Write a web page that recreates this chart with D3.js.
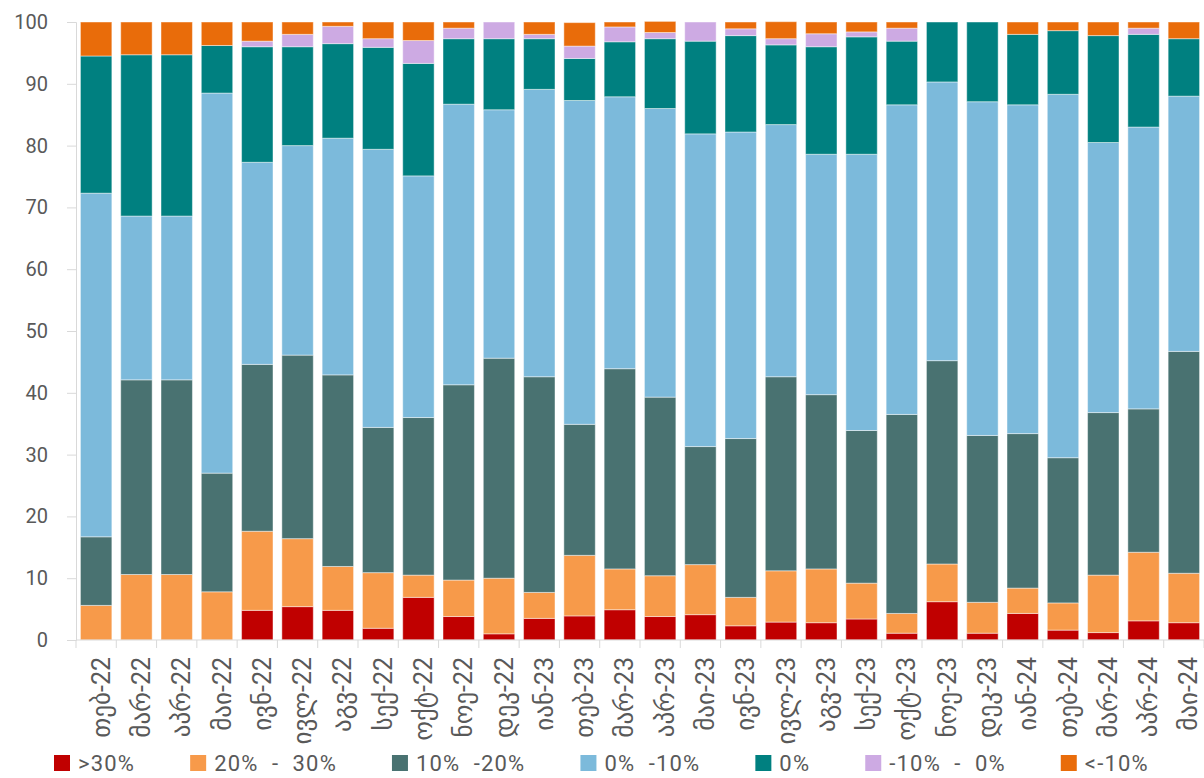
<!DOCTYPE html>
<html>
<head>
<meta charset="utf-8">
<script src="https://cdn.jsdelivr.net/npm/d3@7"></script>
<style>
    body { margin: 0; background: #fff; }
    text { font-family: Roboto, 'DejaVu Sans', sans-serif; fill: #595959; }
</style>
</head>
<body>
<div id="wrapper"></div>
<script>
// months (Georgian abbreviations)
const months = ['თებ-22', 'მარ-22', 'აპრ-22', 'მაი-22', 'ივნ-22', 'ივლ-22', 'აგვ-22', 'სექ-22', 'ოქტ-22', 'ნოე-22', 'დეკ-22',
    'იან-23', 'თებ-23', 'მარ-23', 'აპრ-23', 'მაი-23', 'ივნ-23', 'ივლ-23', 'აგვ-23', 'სექ-23', 'ოქტ-23', 'ნოე-23', 'დეკ-23',
    'იან-24', 'თებ-24', 'მარ-24', 'აპრ-24', 'მაი-24'];

const seriesNames = ['>30%', '20%  -  30%', '10%  -20%', '0%  -10%', '0%', '-10%  -  0%', '<-10%'];

// shares (%) per month, bottom to top
const over30 = [0, 0, 0, 0, 4.8, 5.4, 4.8, 1.9, 6.9, 3.8, 1.0, 3.5, 3.9, 4.9, 3.8, 4.1, 2.3, 2.9, 2.8, 3.4, 1.1, 6.2, 1.1, 4.3, 1.6, 1.2, 3.1, 2.8];
const from20to30 = [5.6, 10.6, 10.6, 7.8, 12.8, 11.0, 7.1, 9.0, 3.6, 5.9, 9.0, 4.2, 9.8, 6.6, 6.6, 8.1, 4.6, 8.3, 8.7, 5.8, 3.2, 6.1, 5.0, 4.1, 4.4, 9.3, 11.1, 8.0];
const from10to20 = [11.1, 31.5, 31.5, 19.2, 27.0, 29.7, 31.0, 23.5, 25.5, 31.6, 35.6, 34.9, 21.2, 32.4, 28.9, 19.1, 25.7, 31.4, 28.2, 24.7, 32.2, 32.9, 27.0, 25.0, 23.5, 26.3, 23.2, 35.9];
const from0to10 = [55.6, 26.5, 26.5, 61.5, 32.7, 33.9, 38.3, 45.0, 39.1, 45.4, 40.2, 46.5, 52.4, 44.0, 46.7, 50.6, 49.6, 40.8, 38.9, 44.7, 50.1, 45.1, 54.0, 53.2, 58.8, 43.7, 45.6, 41.3];
const zero = [22.2, 26.1, 26.1, 7.7, 18.7, 16.0, 15.3, 16.5, 18.2, 10.6, 11.5, 8.2, 6.8, 8.9, 11.3, 15.0, 15.6, 12.9, 17.4, 19.0, 10.3, 9.7, 12.9, 11.4, 10.3, 17.3, 15.0, 9.3];
const minus10to0 = [0, 0, 0, 0, 0.9, 2.0, 2.8, 1.4, 3.7, 1.7, 2.7, 0.7, 2.0, 2.4, 1.0, 3.1, 1.1, 1.0, 2.1, 0.8, 2.1, 0, 0, 0, 0, 0, 1.0, 0];
const belowMinus10 = [5.5, 5.3, 5.3, 3.8, 3.1, 2.0, 0.7, 2.7, 3.0, 1.0, 0, 2.0, 3.8, 0.8, 1.8, 0, 1.1, 2.75, 1.9, 1.6, 1.0, 0, 0, 2.0, 1.4, 2.2, 1.0, 2.7];

const yTicks = [0, 10, 20, 30, 40, 50, 60, 70, 80, 90, 100];

const colors = ['#C00000', '#F79A4A', '#497271', '#7CBADB', '#008080', '#CDAAE3', '#E96C0A'];

function stacked_chart() {
    const seriesValues = [over30, from20to30, from10to20, from0to10, zero, minus10to0, belowMinus10];

    const data = months.map((m, i) => {
        const row = { month: m };
        seriesNames.forEach((s, j) => { row[s] = seriesValues[j][i]; });
        return row;
    });

    const stack = d3.stack().keys(seriesNames)(data);

    // 1. Dimensions
    const dimensions = {
        width: 1204,
        height: 778,
        margin: { top: 22, right: 0, bottom: 138, left: 76 },
    };
    dimensions.boundedWidth = dimensions.width - dimensions.margin.left - dimensions.margin.right;
    dimensions.boundedHeight = dimensions.height - dimensions.margin.top - dimensions.margin.bottom;

    // 2. Canvas
    const wrapper = d3.select('#wrapper')
        .append('svg')
        .attr('width', dimensions.width)
        .attr('height', dimensions.height);

    const bounds = wrapper.append('g')
        .attr('transform', `translate(${dimensions.margin.left},${dimensions.margin.top})`);

    // 3. Scales
    const padding = 0.22;
    const xScale = d3.scaleBand()
        .domain(months)
        .range([0, dimensions.boundedWidth])
        .paddingInner(padding)
        .paddingOuter(padding / 2);

    const yScale = d3.scaleLinear()
        .domain([0, 100])
        .range([dimensions.boundedHeight, 0]);

    // 4. Bars
    bounds.append('g')
        .selectAll('g')
        .data(stack)
        .join('g')
        .attr('fill', (d, i) => colors[i])
        .selectAll('rect')
        .data(d => d)
        .join('rect')
        .attr('x', d => xScale(d.data.month))
        .attr('y', d => yScale(d[1]))
        .attr('width', xScale.bandwidth())
        .attr('height', d => Math.max(0, yScale(d[0]) - yScale(d[1])))
        .attr('stroke', 'rgba(255,255,255,0.45)')
        .attr('stroke-width', 1);

    // 5. Axes
    const yAxisGenerator = d3.axisLeft(yScale)
        .tickValues(yTicks)
        .tickSize(9)
        .tickPadding(19);

    const yAxis = bounds.append('g').call(yAxisGenerator);
    yAxis.select('.domain').attr('stroke', '#D9D9D9');
    yAxis.selectAll('.tick line').attr('stroke', '#D9D9D9');
    yAxis.selectAll('.tick text')
        .attr('font-size', '20px')
        .attr('fill', '#595959');

    const xAxis = bounds.append('g')
        .attr('transform', `translate(0,${dimensions.boundedHeight})`);

    xAxis.append('line')
        .attr('x1', 0)
        .attr('x2', dimensions.boundedWidth)
        .attr('stroke', '#D9D9D9');

    const step = xScale.step();
    xAxis.selectAll('.boundary')
        .data(months.concat(['end']))
        .join('line')
        .attr('class', 'boundary')
        .attr('x1', (d, i) => i * step)
        .attr('x2', (d, i) => i * step)
        .attr('y1', 0)
        .attr('y2', 8)
        .attr('stroke', '#D9D9D9');

    xAxis.selectAll('.label')
        .data(months)
        .join('text')
        .attr('class', 'label')
        .attr('text-anchor', 'end')
        .attr('font-size', '25px')
        .attr('dominant-baseline', 'central')
        .attr('transform', d => `translate(${xScale(d) + xScale.bandwidth() / 2 + 5},17) rotate(-90)`)
        .text(d => d);

    // 6. Legend
    const legend = wrapper.append('g')
        .attr('transform', 'translate(54,771)');

    let offset = 0;
    seriesNames.forEach((name, i) => {
        const item = legend.append('g').attr('transform', `translate(${offset},0)`);
        item.append('rect')
            .attr('x', 0)
            .attr('y', -16)
            .attr('width', 16)
            .attr('height', 16)
            .attr('fill', colors[i]);
        const label = item.append('text')
            .attr('x', 24)
            .attr('font-size', '22px')
            .attr('letter-spacing', '1.2px')
            .style('white-space', 'pre')
            .text(name);
        offset += 24 + label.node().getComputedTextLength() + 55;
    });
}

stacked_chart();
</script>
</body>
</html>
